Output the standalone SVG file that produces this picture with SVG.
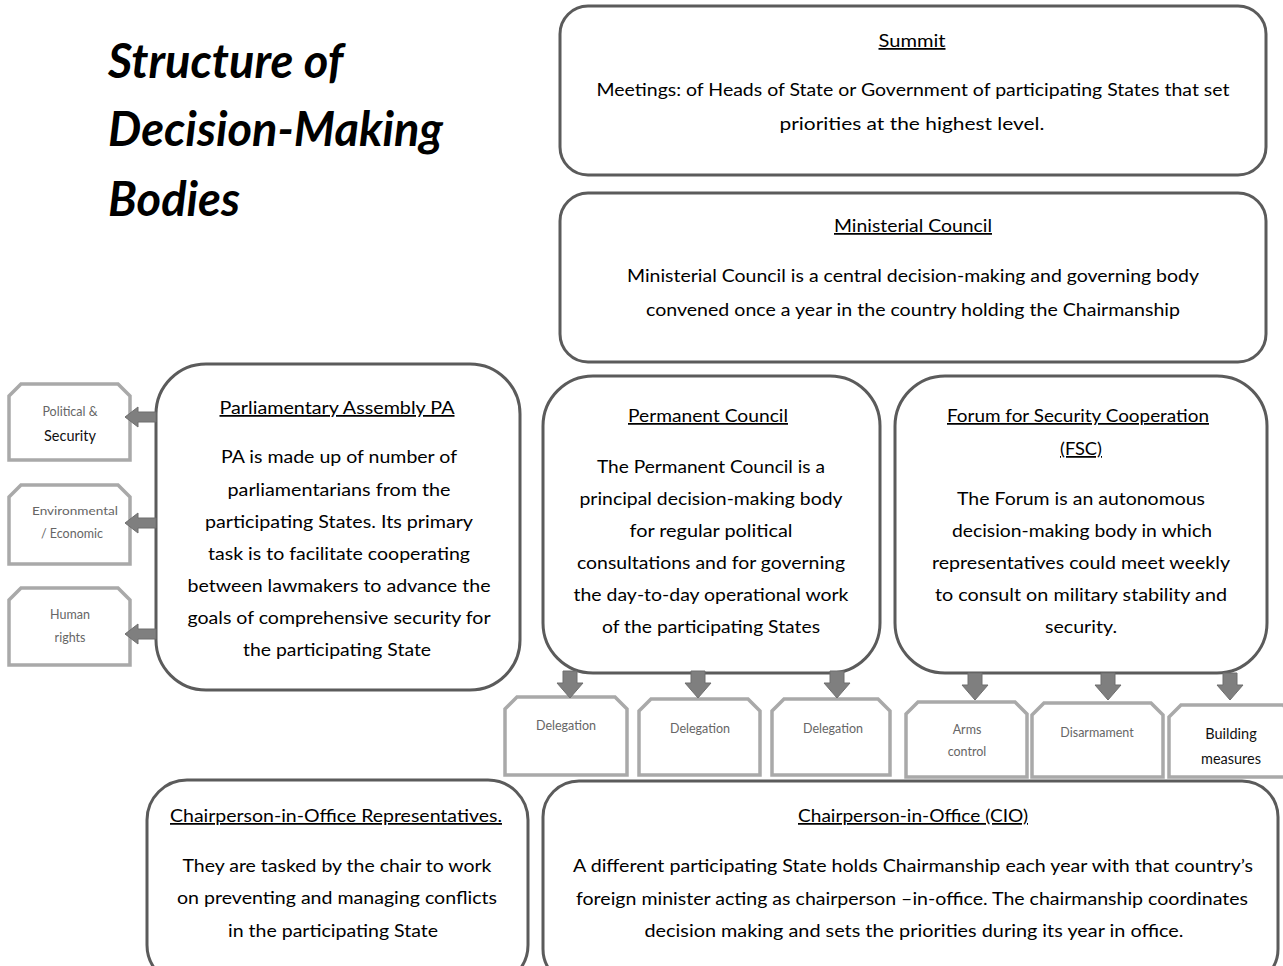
<svg xmlns="http://www.w3.org/2000/svg" xmlns:xlink="http://www.w3.org/1999/xlink" width="1283" height="966" viewBox="0 0 1283 966">
<style>
.bg{fill:#ffffff}
.box{fill:#ffffff;stroke:#5b5b5b;stroke-width:3}
.sbox{fill:#ffffff;stroke:#a9a9a9;stroke-width:3.5;stroke-linejoin:miter}
.arr{fill:#7f7f7f;stroke:#6f6f6f;stroke-width:1}
.title{font-family:Lato,"Open Sans",sans-serif;font-weight:bold;font-style:italic;font-size:47px;fill:#000}
.h{font-family:Lato,"Noto Sans",sans-serif;font-size:17.5px;fill:#000;text-anchor:middle;text-decoration:underline}
.t{font-family:Lato,"Noto Sans",sans-serif;font-size:17.5px;fill:#000;text-anchor:middle}
.s{font-family:Lato,"Noto Sans",sans-serif;font-size:12.5px;fill:#666;text-anchor:middle}
.sd{font-family:Lato,"Noto Sans",sans-serif;font-size:14.5px;fill:#111;text-anchor:middle}
</style>
<defs>
<path id="adown" d="M-7,0 H7 V12 H13 L0,27 L-13,12 H-7 Z"/>
<path id="aleft" d="M0,-5 H-18 V-10 L-31,0 L-18,10 V5 H0 Z"/>
</defs>
<rect class="bg" x="0" y="0" width="1283" height="966"/>

<g id="title">
<text class="title" x="108" y="78">Structure of</text>
<text class="title" x="108" y="146">Decision-Making</text>
<text class="title" x="108" y="216">Bodies</text>
</g>

<g id="summit">
<rect class="box" x="560" y="6" width="706" height="169" rx="28"/>
<text class="h" x="912" y="47" textLength="67" lengthAdjust="spacingAndGlyphs">Summit</text>
<text class="t" x="913" y="96" textLength="633" lengthAdjust="spacingAndGlyphs">Meetings: of Heads of State or Government of participating States that set</text>
<text class="t" x="912" y="130" textLength="265" lengthAdjust="spacingAndGlyphs">priorities at the highest level.</text>
</g>

<g id="ministerial">
<rect class="box" x="560" y="193" width="706" height="169" rx="28"/>
<text class="h" x="913" y="232" textLength="158" lengthAdjust="spacingAndGlyphs">Ministerial Council</text>
<text class="t" x="913" y="282" textLength="572" lengthAdjust="spacingAndGlyphs">Ministerial Council is a central decision-making and governing body</text>
<text class="t" x="913" y="316" textLength="534" lengthAdjust="spacingAndGlyphs">convened once a year in the country holding the Chairmanship</text>
</g>

<g id="pa">
<rect class="box" x="156" y="364" width="364" height="326" rx="50"/>
<text class="h" x="337" y="414" textLength="235" lengthAdjust="spacingAndGlyphs">Parliamentary Assembly PA</text>
<text class="t" x="339" y="463" textLength="236" lengthAdjust="spacingAndGlyphs">PA is made up of number of</text>
<text class="t" x="339" y="496" textLength="223" lengthAdjust="spacingAndGlyphs">parliamentarians from the</text>
<text class="t" x="339" y="528" textLength="268" lengthAdjust="spacingAndGlyphs">participating States. Its primary</text>
<text class="t" x="339" y="560" textLength="262" lengthAdjust="spacingAndGlyphs">task is to facilitate cooperating</text>
<text class="t" x="339" y="592" textLength="303" lengthAdjust="spacingAndGlyphs">between lawmakers to advance the</text>
<text class="t" x="339" y="624" textLength="303" lengthAdjust="spacingAndGlyphs">goals of comprehensive security for</text>
<text class="t" x="337" y="656" textLength="188" lengthAdjust="spacingAndGlyphs">the participating State</text>
</g>

<g id="political">
<path class="sbox" d="M9,460 V396 L21,384 H118 L130,396 V460 Z"/>
<text class="s" x="70" y="416">Political &amp;</text>
<text class="sd" x="70" y="441">Security</text>
</g>
<g id="environmental">
<path class="sbox" d="M9,564 V497 L21,485 H118 L130,497 V564 Z"/>
<text class="s" x="75" y="515" style="font-size:10.5px" textLength="86" lengthAdjust="spacingAndGlyphs">Environmental</text>
<text class="s" x="72" y="538">/ Economic</text>
</g>
<g id="human">
<path class="sbox" d="M9,665 V600 L21,588 H118 L130,600 V665 Z"/>
<text class="s" x="70" y="619">Human</text>
<text class="s" x="70" y="642">rights</text>
</g>

<g id="permanent">
<rect class="box" x="543" y="376" width="337" height="297" rx="50"/>
<text class="h" x="708" y="422" textLength="160" lengthAdjust="spacingAndGlyphs">Permanent Council</text>
<text class="t" x="711" y="473" textLength="228" lengthAdjust="spacingAndGlyphs">The Permanent Council is a</text>
<text class="t" x="711" y="505" textLength="263" lengthAdjust="spacingAndGlyphs">principal decision-making body</text>
<text class="t" x="711" y="537" textLength="163" lengthAdjust="spacingAndGlyphs">for regular political</text>
<text class="t" x="711" y="569" textLength="268" lengthAdjust="spacingAndGlyphs">consultations and for governing</text>
<text class="t" x="711" y="601" textLength="275" lengthAdjust="spacingAndGlyphs">the day-to-day operational work</text>
<text class="t" x="711" y="633" textLength="218" lengthAdjust="spacingAndGlyphs">of the participating States</text>
</g>

<g id="fsc">
<rect class="box" x="895" y="376" width="372" height="297" rx="50"/>
<text class="h" x="1078" y="422" textLength="262" lengthAdjust="spacingAndGlyphs">Forum for Security Cooperation</text>
<text class="h" x="1081" y="455" textLength="42" lengthAdjust="spacingAndGlyphs">(FSC)</text>
<text class="t" x="1081" y="505" textLength="248" lengthAdjust="spacingAndGlyphs">The Forum is an autonomous</text>
<text class="t" x="1082" y="537" textLength="260" lengthAdjust="spacingAndGlyphs">decision-making body in which</text>
<text class="t" x="1081" y="569" textLength="298" lengthAdjust="spacingAndGlyphs">representatives could meet weekly</text>
<text class="t" x="1081" y="601" textLength="292" lengthAdjust="spacingAndGlyphs">to consult on military stability and</text>
<text class="t" x="1081" y="633" textLength="72" lengthAdjust="spacingAndGlyphs">security.</text>
</g>

<g id="delegation1">
<path class="sbox" d="M505,775 V709 L517,697 H615 L627,709 V775 Z"/>
<text class="s" x="566" y="730">Delegation</text>
</g>
<g id="delegation2">
<path class="sbox" d="M639,775 V711 L651,699 H748 L760,711 V775 Z"/>
<text class="s" x="700" y="733">Delegation</text>
</g>
<g id="delegation3">
<path class="sbox" d="M772,775 V711 L784,699 H878 L890,711 V775 Z"/>
<text class="s" x="833" y="733">Delegation</text>
</g>
<g id="arms">
<path class="sbox" d="M906,777 V714 L918,702 H1015 L1027,714 V777 Z"/>
<text class="s" x="967" y="734">Arms</text>
<text class="s" x="967" y="756">control</text>
</g>
<g id="disarmament">
<path class="sbox" d="M1032,777 V715 L1044,703 H1151 L1163,715 V777 Z"/>
<text class="s" x="1097" y="737">Disarmament</text>
</g>
<g id="building">
<path class="sbox" d="M1169,777 V717 L1181,705 H1283 L1295,717 V777 Z"/>
<text class="sd" x="1231" y="739">Building</text>
<text class="sd" x="1231" y="764">measures</text>
</g>

<g id="cio-reps">
<rect class="box" x="147" y="780" width="381" height="205" rx="40"/>
<text class="h" x="336" y="822" textLength="332" lengthAdjust="spacingAndGlyphs">Chairperson-in-Office Representatives.</text>
<text class="t" x="337" y="872" textLength="309" lengthAdjust="spacingAndGlyphs">They are tasked by the chair to work</text>
<text class="t" x="337" y="904" textLength="320" lengthAdjust="spacingAndGlyphs">on preventing and managing conflicts</text>
<text class="t" x="333" y="937" textLength="210" lengthAdjust="spacingAndGlyphs">in the participating State</text>
</g>

<g id="cio">
<rect class="box" x="543" y="781" width="735" height="204" rx="36"/>
<text class="h" x="913" y="822" textLength="230" lengthAdjust="spacingAndGlyphs">Chairperson-in-Office (CIO)</text>
<text class="t" x="913" y="872" textLength="680" lengthAdjust="spacingAndGlyphs">A different participating State holds Chairmanship each year with that country’s</text>
<text class="t" x="912" y="905" textLength="672" lengthAdjust="spacingAndGlyphs">foreign minister acting as chairperson –in-office. The chairmanship coordinates</text>
<text class="t" x="914" y="937" textLength="539" lengthAdjust="spacingAndGlyphs">decision making and sets the priorities during its year in office.</text>
</g>

<g id="connectors">
<use xlink:href="#aleft" class="arr" x="156" y="417"/>
<use xlink:href="#aleft" class="arr" x="156" y="523"/>
<use xlink:href="#aleft" class="arr" x="156" y="634"/>
<use xlink:href="#adown" class="arr" x="570" y="671"/>
<use xlink:href="#adown" class="arr" x="698" y="671"/>
<use xlink:href="#adown" class="arr" x="837" y="671"/>
<use xlink:href="#adown" class="arr" x="975" y="673"/>
<use xlink:href="#adown" class="arr" x="1108" y="673"/>
<use xlink:href="#adown" class="arr" x="1230" y="673"/>
</g>
</svg>
